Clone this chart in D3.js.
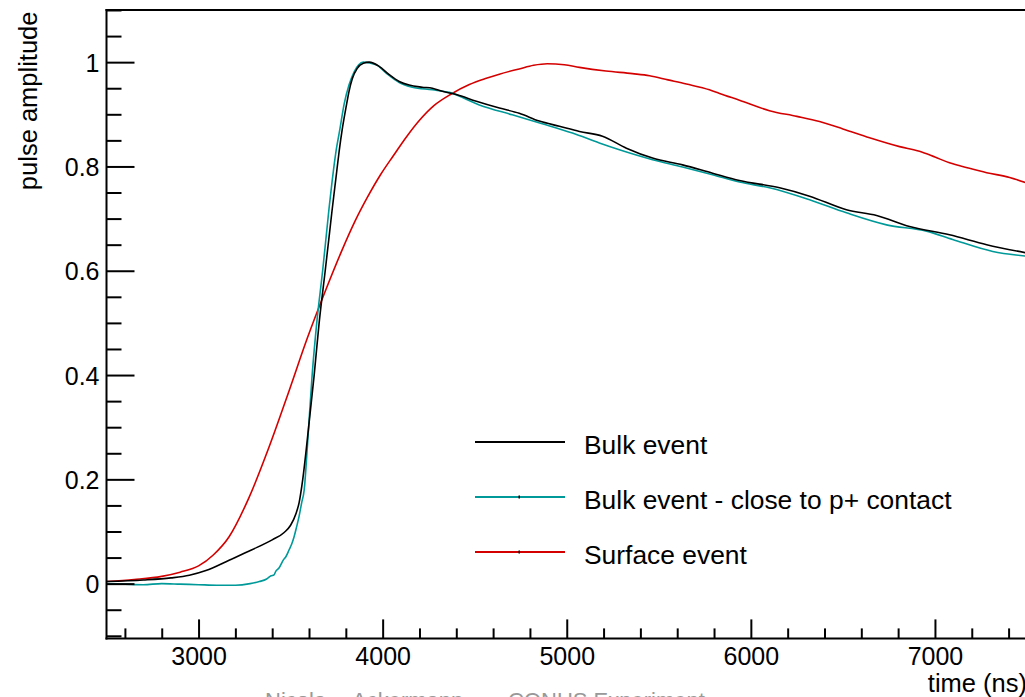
<!DOCTYPE html>
<html>
<head>
<meta charset="utf-8">
<script src="https://cdn.jsdelivr.net/npm/d3@7"></script>
<style>
  html, body { margin: 0; padding: 0; background: #fff; overflow: hidden; }
  svg { display: block; }
  text { font-family: "Liberation Sans", Arial, sans-serif; fill: #000; }
</style>
</head>
<body>
<svg id="chart" width="1025" height="697"></svg>
<script>
// Pulse shapes (time in ns, normalised amplitude)
const bulkTime = [2500, 2700, 2850, 2950, 3040, 3166, 3290, 3400, 3465, 3500, 3530, 3546, 3566,
  3598, 3628, 3655, 3688, 3709, 3725, 3747, 3764, 3780, 3802, 3818, 3835, 3862, 3895, 3927,
  3981, 4036, 4090, 4144, 4215, 4270, 4324, 4400, 4509, 4634, 4742, 4851, 4960, 5069, 5194,
  5324, 5466, 5629, 5792, 5938, 6156, 6319, 6519, 6683, 6862, 7079, 7281, 7500];
const bulkAmp = [0.004, 0.007, 0.011, 0.016, 0.025, 0.045, 0.065, 0.084, 0.098, 0.112, 0.135, 0.155, 0.200,
  0.300, 0.400, 0.500, 0.600, 0.665, 0.715, 0.780, 0.830, 0.870, 0.915, 0.945, 0.968, 0.988, 0.998, 1.000,
  0.992, 0.976, 0.963, 0.956, 0.952, 0.950, 0.944, 0.938, 0.925, 0.912, 0.902, 0.887, 0.877, 0.867, 0.858,
  0.835, 0.816, 0.803, 0.787, 0.773, 0.759, 0.743, 0.717, 0.706, 0.685, 0.669, 0.650, 0.634];

const nearTime = [2500, 2600, 2700, 2800, 2900, 3000, 3100, 3200, 3280, 3330, 3370, 3394, 3410, 3420,
  3437, 3460, 3475, 3492, 3505, 3519, 3532, 3546, 3560, 3574, 3590, 3617, 3642, 3674, 3693, 3709,
  3725, 3747, 3767, 3791, 3818, 3846, 3870, 3895, 3965, 4019, 4090, 4161, 4270, 4362, 4525, 4704, 4867,
  5031, 5177, 5286, 5466, 5629, 5792, 5938, 6101, 6319, 6519, 6737, 6954, 7096, 7314, 7500];
const nearAmp = [0.000, -0.001, -0.002, 0.000, -0.001, -0.002, -0.003, -0.003, 0.000, 0.004, 0.009, 0.015, 0.017, 0.024,
  0.030, 0.045, 0.052, 0.065, 0.075, 0.090, 0.108, 0.129, 0.155, 0.180, 0.257, 0.400, 0.500, 0.600, 0.665, 0.720,
  0.770, 0.830, 0.870, 0.920, 0.957, 0.982, 0.995, 1.000, 0.995, 0.979, 0.961, 0.952, 0.947, 0.942, 0.918, 0.899, 0.882,
  0.864, 0.845, 0.832, 0.813, 0.799, 0.784, 0.770, 0.759, 0.736, 0.711, 0.688, 0.676, 0.660, 0.637, 0.628];

const surfTime = [2500, 2650, 2800, 2900, 3000, 3080, 3166, 3274, 3383, 3492, 3590, 3693, 3780, 3850, 3916,
  3990, 4057, 4130, 4199, 4280, 4373, 4471, 4563, 4634, 4742, 4820, 4894, 4987, 5069, 5213, 5357, 5450, 5550, 5650,
  5775, 5830, 5938, 6101, 6250, 6373, 6500, 6645, 6808, 6916, 7000, 7079, 7181, 7281, 7406, 7500];
const surfAmp = [0.004, 0.008, 0.014, 0.022, 0.034, 0.055, 0.090, 0.165, 0.262, 0.370, 0.470, 0.565, 0.640, 0.695, 0.740,
  0.785, 0.820, 0.857, 0.888, 0.917, 0.939, 0.957, 0.969, 0.977, 0.987, 0.994, 0.997, 0.995, 0.990, 0.983, 0.978, 0.974, 0.966, 0.958,
  0.947, 0.940, 0.927, 0.907, 0.896, 0.886, 0.872, 0.855, 0.838, 0.829, 0.818, 0.807, 0.797, 0.788, 0.779, 0.768];

const seriesNames = ["Bulk event", "Bulk event - close to p+ contact", "Surface event"];
const seriesColors = ["#000000", "#009999", "#d40000"];

const xMajorTicks = [3000, 4000, 5000, 6000, 7000];
const yMajorTicks = [0, 0.2, 0.4, 0.6, 0.8, 1];
const xTitle = "time (ns)";
const yTitle = "pulse amplitude";
const footerTexts = ["Nicola", "Ackermann", "CONUS Experiment"];

const svg = d3.select("#chart");

const plot = { left: 106.5, right: 1027, top: 10, bottom: 638.4 };
const x = d3.scaleLinear().domain([2500, 7500]).range([plot.left, plot.right]);
const y = d3.scaleLinear().domain([-0.105, 1.1]).range([plot.bottom, plot.top]);

const xMinor = d3.range(2600, 7500, 200).filter(v => v % 1000 !== 0);
const yMinor = d3.range(-0.1, 1.1, 0.05).map(v => +v.toFixed(2))
  .filter(v => !yMajorTicks.some(m => Math.abs(m - v) < 1e-6));

// clip for the traces
svg.append("defs").append("clipPath").attr("id", "plotClip")
  .append("rect").attr("x", plot.left).attr("y", plot.top)
  .attr("width", plot.right - plot.left).attr("height", plot.bottom - plot.top);

// traces
const line = d3.line().x(d => x(d[0])).y(d => y(d[1])).curve(d3.curveMonotoneX);
const series = [
  d3.zip(bulkTime, bulkAmp),
  d3.zip(nearTime, nearAmp),
  d3.zip(surfTime, surfAmp)
];
const traces = svg.append("g").attr("clip-path", "url(#plotClip)");
// surface first, then near-contact, then bulk on top
[2, 1, 0].forEach(i => {
  traces.append("path").datum(series[i])
    .attr("d", line).attr("fill", "none")
    .attr("stroke", seriesColors[i]).attr("stroke-width", 1.6)
    .attr("stroke-linejoin", "round");
});

// y axis: major + minor ticks pointing inwards
const yAxisG = svg.append("g").attr("transform", `translate(${plot.left},0)`);
yAxisG.call(d3.axisLeft(y).tickValues(yMajorTicks).tickSize(-28).tickPadding(7)
  .tickFormat(d => d3.format("")(d)));
yAxisG.select(".domain").remove();
yAxisG.selectAll(".tick line").attr("stroke", "#000").attr("stroke-width", 2);
yAxisG.selectAll(".tick text").attr("font-size", 25).attr("dy", "0.36em")
  .attr("font-family", "Liberation Sans, Arial, sans-serif").attr("fill", "#000");

const yMinorG = svg.append("g").attr("transform", `translate(${plot.left},0)`);
yMinorG.call(d3.axisLeft(y).tickValues(yMinor).tickSize(-15).tickFormat(""));
yMinorG.select(".domain").remove();
yMinorG.selectAll(".tick line").attr("stroke", "#000").attr("stroke-width", 2);

// x axis: major + minor ticks pointing inwards
const xAxisG = svg.append("g").attr("transform", `translate(0,${plot.bottom})`);
xAxisG.call(d3.axisBottom(x).tickValues(xMajorTicks).tickSize(-19).tickFormat(d3.format("d")));
xAxisG.select(".domain").remove();
xAxisG.selectAll(".tick line").attr("stroke", "#000").attr("stroke-width", 2);
xAxisG.selectAll(".tick text").attr("font-size", 25).attr("y", 26.5).attr("dy", 0)
  .attr("font-family", "Liberation Sans, Arial, sans-serif").attr("fill", "#000");

const xMinorG = svg.append("g").attr("transform", `translate(0,${plot.bottom})`);
xMinorG.call(d3.axisBottom(x).tickValues(xMinor).tickSize(-10).tickFormat(""));
xMinorG.select(".domain").remove();
xMinorG.selectAll(".tick line").attr("stroke", "#000").attr("stroke-width", 2);

// frame
const frame = svg.append("g").attr("stroke", "#000").attr("stroke-width", 2).attr("fill", "none");
frame.append("line").attr("x1", plot.left).attr("x2", plot.left).attr("y1", plot.top - 1).attr("y2", plot.bottom + 1);
frame.append("line").attr("x1", plot.left - 1).attr("x2", plot.right).attr("y1", plot.top).attr("y2", plot.top);
frame.append("line").attr("x1", plot.left - 1).attr("x2", plot.right).attr("y1", plot.bottom).attr("y2", plot.bottom);
frame.append("line").attr("x1", plot.right).attr("x2", plot.right).attr("y1", plot.top).attr("y2", plot.bottom);

// axis titles
svg.append("text").attr("x", plot.right).attr("y", 692)
  .attr("text-anchor", "end").attr("font-size", 25.5).text(xTitle);
svg.append("text").attr("transform", `translate(37,11.5) rotate(-90)`)
  .attr("text-anchor", "end").attr("font-size", 25.5).text(yTitle);

// legend
const legend = svg.append("g");
const legendY = [442, 497, 552];
seriesNames.forEach((name, i) => {
  legend.append("line").attr("x1", 475).attr("x2", 565)
    .attr("y1", legendY[i]).attr("y2", legendY[i])
    .attr("stroke", seriesColors[i]).attr("stroke-width", 2);
  if (i > 0) {
    legend.append("rect").attr("x", 518.5).attr("y", legendY[i] - 1.5)
      .attr("width", 1.5).attr("height", 3).attr("fill", "#000");
  }
  legend.append("text").attr("x", 584).attr("y", legendY[i] + 12)
    .attr("font-size", 26.4).text(name);
});

// footer line along the bottom edge
const footerX = [265, 352, 508];
footerTexts.forEach((t, i) => {
  svg.append("text").attr("x", footerX[i]).attr("y", 708)
    .attr("font-size", 22).style("fill", "#999").text(t);
});
</script>
</body>
</html>
